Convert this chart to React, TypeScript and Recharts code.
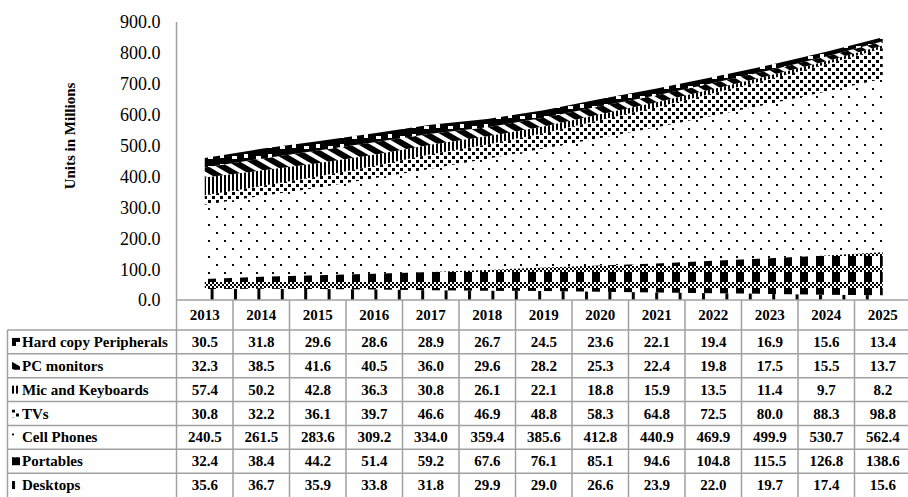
import { AreaChart, Area, XAxis, YAxis } from "recharts";

const years = ["2013", "2014", "2015", "2016", "2017", "2018", "2019", "2020", "2021", "2022", "2023", "2024", "2025"];

const hardCopy = [30.5, 31.8, 29.6, 28.6, 28.9, 26.7, 24.5, 23.6, 22.1, 19.4, 16.9, 15.6, 13.4];
const pcMonitors = [32.3, 38.5, 41.6, 40.5, 36.0, 29.6, 28.2, 25.3, 22.4, 19.8, 17.5, 15.5, 13.7];
const micKeyboards = [57.4, 50.2, 42.8, 36.3, 30.8, 26.1, 22.1, 18.8, 15.9, 13.5, 11.4, 9.7, 8.2];
const tvs = [30.8, 32.2, 36.1, 39.7, 46.6, 46.9, 48.8, 58.3, 64.8, 72.5, 80.0, 88.3, 98.8];
const cellPhones = [240.5, 261.5, 283.6, 309.2, 334.0, 359.4, 385.6, 412.8, 440.9, 469.9, 499.9, 530.7, 562.4];
const portables = [32.4, 38.4, 44.2, 51.4, 59.2, 67.6, 76.1, 85.1, 94.6, 104.8, 115.5, 126.8, 138.6];
const desktops = [35.6, 36.7, 35.9, 33.8, 31.8, 29.9, 29.0, 26.6, 23.9, 22.0, 19.7, 17.4, 15.6];

const yTicks = [0, 100, 200, 300, 400, 500, 600, 700, 800, 900];

// stacking order, bottom first
const series = [
  { key: "desktops", name: "Desktops", values: desktops, pattern: "pDesk" },
  { key: "portables", name: "Portables", values: portables, pattern: "pPort" },
  { key: "cell", name: "Cell Phones", values: cellPhones, pattern: "pCell" },
  { key: "tvs", name: "TVs", values: tvs, pattern: "pTv" },
  { key: "mic", name: "Mic and Keyboards", values: micKeyboards, pattern: "pMic" },
  { key: "monitors", name: "PC monitors", values: pcMonitors, pattern: "pMon" },
  { key: "hardcopy", name: "Hard copy Peripherals", values: hardCopy, pattern: "pHard" },
];
// table lists them top-down
const tableRows = [...series].reverse();

const data = years.map((year, i) => {
  const row: Record<string, string | number> = { year };
  series.forEach((s) => (row[s.key] = s.values[i]));
  return row;
});

const FONT = '"Liberation Serif", "Times New Roman", serif';
const GRID = "#a0a0a0";
const CHART_W = 912;
const CHART_H = 497;
const PLOT_LEFT = 176.5;
const AXIS_Y = 300;
const COL_W = (CHART_W - 1 - PLOT_LEFT) / years.length;
const HEADER_H = 30;
const ROW_H = (CHART_H - AXIS_Y - HEADER_H) / tableRows.length;
const TABLE_LEFT = 7.5;

const cellText = {
  fontFamily: FONT,
  fontSize: 15,
  fontWeight: "bold" as const,
  fill: "#000",
};

const LabelColumn = ({ right, top }: { right: number; top: number }) => {
  const rowTop = (r: number) => top + HEADER_H + r * ROW_H;
  return (
    <g>
      <line x1={TABLE_LEFT} x2={TABLE_LEFT} y1={rowTop(0)} y2={CHART_H} stroke={GRID} strokeWidth={1.5} />
      {tableRows.map((_, r) => (
        <line key={r} x1={TABLE_LEFT} x2={right} y1={rowTop(r)} y2={rowTop(r)} stroke={GRID} strokeWidth={1.5} />
      ))}
      {tableRows.map((s, r) => (
        <g key={s.key}>
          {/* legend key: pattern tile anchored at the key's corner */}
          <g transform={`translate(12, ${rowTop(r) + ROW_H / 2 - 4})`}>
            <rect x={0} y={0} width={8} height={8} fill={`url(#${s.pattern})`} />
          </g>
          <text x={22} y={rowTop(r) + ROW_H / 2} dominantBaseline="central" {...cellText}>
            {s.name}
          </text>
        </g>
      ))}
    </g>
  );
};

const TableColumn = (props: any) => {
  const { x, y, payload } = props;
  const i = years.indexOf(String(payload.value));
  const half = COL_W / 2;
  const rowTop = (r: number) => y + HEADER_H + r * ROW_H;
  return (
    <g>
      {i === 0 && (
        <line x1={x - half} x2={x - half} y1={y} y2={CHART_H} stroke={GRID} strokeWidth={1.5} />
      )}
      <line x1={x + half} x2={x + half} y1={y} y2={CHART_H} stroke={GRID} strokeWidth={1.5} />
      {tableRows.map((_, r) => (
        <line key={r} x1={x - half} x2={x + half} y1={rowTop(r)} y2={rowTop(r)} stroke={GRID} strokeWidth={1.5} />
      ))}
      <text x={x} y={y + HEADER_H / 2} textAnchor="middle" dominantBaseline="central" {...cellText}>
        {payload.value}
      </text>
      {tableRows.map((s, r) => (
        <text key={s.key} x={x} y={rowTop(r) + ROW_H / 2} textAnchor="middle" dominantBaseline="central" {...cellText}>
          {s.values[i].toFixed(1)}
        </text>
      ))}
      {i === 0 && <LabelColumn right={x - half} top={y} />}
    </g>
  );
};

const checkerRows = [10, 12, 14];
const checkerCols = [0, 4, 8, 12];

export default function App() {
  return (
    <div style={{ position: "absolute", left: 0, top: 0, width: 908, height: 497, overflow: "hidden", background: "#fff" }}>
      <AreaChart
        width={CHART_W}
        height={CHART_H}
        data={data}
        margin={{ top: 22, right: 1, left: 0, bottom: 0 }}
      >
        <defs>
          <pattern id="pDesk" width={23.4} height={12} patternUnits="userSpaceOnUse">
            <rect x={0} y={0} width={3} height={12} fill="#000" />
          </pattern>
          <pattern id="pPort" width={16} height={16} patternUnits="userSpaceOnUse">
            <rect x={0} y={0} width={8} height={10} fill="#000" />
            {checkerRows.map((yy, r) =>
              checkerCols.map((xx) => (
                <rect key={`${r}-${xx}`} x={xx + (r % 2 ? 2 : 0)} y={yy} width={2} height={2} fill="#000" />
              ))
            )}
          </pattern>
          <pattern id="pCell" width={16} height={16} patternUnits="userSpaceOnUse">
            <rect x={0} y={0} width={2} height={2} fill="#000" />
            <rect x={8} y={8} width={2} height={2} fill="#000" />
          </pattern>
          <pattern id="pTv" width={8} height={8} patternUnits="userSpaceOnUse">
            <rect x={0} y={0} width={3} height={3} fill="#000" />
            <rect x={4} y={4} width={3} height={3} fill="#000" />
          </pattern>
          <pattern id="pMic" width={4} height={4} patternUnits="userSpaceOnUse">
            <rect x={0} y={0} width={2} height={4} fill="#000" />
          </pattern>
          <pattern id="pMon" width={10} height={10} patternUnits="userSpaceOnUse" patternTransform="rotate(30)">
            <rect x={0} y={0} width={10} height={6} fill="#000" />
          </pattern>
          <pattern id="pHard" width={24} height={10} patternUnits="userSpaceOnUse">
            <rect x={0} y={0} width={24} height={10} fill="#000" />
            <rect x={4} y={4} width={4} height={4} fill="#fff" />
            <rect x={16} y={6} width={5} height={3} fill="#fff" />
          </pattern>
        </defs>
        <XAxis
          dataKey="year"
          height={CHART_H - AXIS_Y}
          interval={0}
          tickLine={false}
          tickSize={0}
          tickMargin={0}
          padding={{ left: COL_W / 2, right: COL_W / 2 }}
          axisLine={{ stroke: GRID, strokeWidth: 1.5 }}
          tick={(p: any) => <TableColumn {...p} />}
        />
        <YAxis
          type="number"
          domain={[0, 900]}
          ticks={yTicks}
          width={PLOT_LEFT}
          tickLine={false}
          tickSize={0}
          tickMargin={16}
          axisLine={{ stroke: GRID, strokeWidth: 1.5 }}
          tick={{ fill: "#000", fontSize: 18, fontFamily: FONT }}
          tickFormatter={(v: number) => v.toFixed(1)}
        />
        {series.map((s) => (
          <Area
            key={s.key}
            dataKey={s.key}
            name={s.name}
            type="linear"
            stackId="1"
            stroke="none"
            fill={`url(#${s.pattern})`}
            fillOpacity={1}
            isAnimationActive={false}
          />
        ))}
      </AreaChart>
      <div
        style={{
          position: "absolute",
          left: 70,
          top: 136,
          transform: "translate(-50%, -50%) rotate(-90deg)",
          whiteSpace: "nowrap",
          fontFamily: FONT,
          fontWeight: "bold",
          fontSize: 15,
          color: "#000",
        }}
      >
        Units in Millions
      </div>
    </div>
  );
}
